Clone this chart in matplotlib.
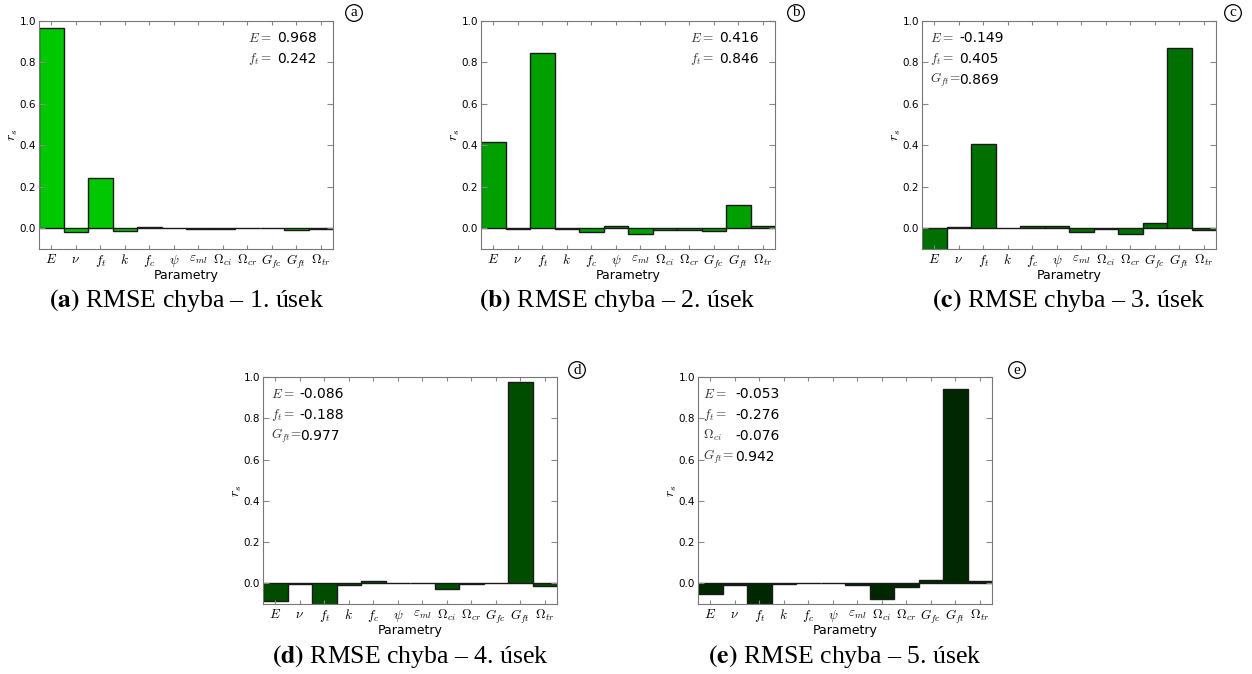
import numpy as np
import matplotlib; matplotlib.use("Agg")
import matplotlib.pyplot as plt

plt.rcParams.update({"mathtext.fontset": "cm", "font.family": "DejaVu Sans",
                     "xtick.direction": "in", "ytick.direction": "in"})

PARAMS = [r"$E$", r"$\nu$", r"$f_t$", r"$k$", r"$f_c$", r"$\psi$", r"$\varepsilon_{ml}$",
          r"$\Omega_{ci}$", r"$\Omega_{cr}$", r"$G_{fc}$", r"$G_{ft}$", r"$\Omega_{tr}$"]

rs_a = [0.968, -0.018, 0.242, -0.012, 0.005, 0.001, -0.002, -0.005, 0.0, 0.003, -0.008, -0.003]
rs_b = [0.416, -0.004, 0.846, -0.002, -0.018, 0.010, -0.028, -0.006, -0.010, -0.012, 0.114, 0.012]
rs_c = [-0.149, 0.004, 0.405, 0.003, 0.010, 0.010, -0.018, -0.002, -0.028, 0.026, 0.869, -0.010]
rs_d = [-0.086, -0.002, -0.188, -0.010, 0.012, 0.0, 0.003, -0.028, -0.003, 0.002, 0.977, -0.013]
rs_e = [-0.053, -0.010, -0.276, -0.002, 0.002, 0.004, -0.008, -0.076, -0.018, 0.015, 0.942, 0.013]

notes_a = [(r"$E =$", "0.968"), (r"$f_t =$", "0.242")]
notes_b = [(r"$E =$", "0.416"), (r"$f_t =$", "0.846")]
notes_c = [(r"$E =$", "-0.149"), (r"$f_t =$", "0.405"), (r"$G_{ft}\!=$", "0.869")]
notes_d = [(r"$E =$", "-0.086"), (r"$f_t =$", "-0.188"), (r"$G_{ft}\!=$", "0.977")]
notes_e = [(r"$E =$", "-0.053"), (r"$f_t =$", "-0.276"), (r"$\Omega_{ci}$", "-0.076"), (r"$G_{ft}\!=$", "0.942")]

W, H = 1252, 674
fig = plt.figure(figsize=(W/100, H/100), dpi=100)

# (vals, notes, color, axes box px [left, top, right, bottom], note x, letter pos, caption pos, letter, usek)
panels = [
    (rs_a, notes_a, "#00c800", (39, 21, 333, 249), (0.71, 0.81), (354, 13), (187, 301), "a", "1"),
    (rs_b, notes_b, "#00a000", (481, 21, 775, 249), (0.71, 0.81), (796, 13), (617, 301), "b", "2"),
    (rs_c, notes_c, "#007000", (922, 21, 1216, 249), (0.027, 0.126), (1233, 13), (1069, 301), "c", "3"),
    (rs_d, notes_d, "#004d00", (263, 377, 557, 604), (0.028, 0.125), (577, 370), (410, 657), "d", "4"),
    (rs_e, notes_e, "#002800", (698, 377, 992, 604), (0.017, 0.127), (1017, 370), (845, 657), "e", "5"),
]

for vals, notes, col, (l, t, r, b), (xl, xv), (lx, ly), (cx, cy), let, n in panels:
    ax = fig.add_axes([l/W, 1 - b/H, (r-l)/W, (b-t)/H])
    x = np.arange(len(PARAMS))
    ax.bar(x, vals, width=1.0, color=col, edgecolor="#1a1a1a", lw=1)
    ax.set_xlim(-0.5, len(PARAMS)-0.5); ax.set_ylim(-0.1, 1.0)
    ax.set_xticks(x); ax.set_xticklabels(PARAMS, fontsize=9.5)
    ax.set_yticks(np.arange(0, 1.01, 0.2))
    ax.tick_params(axis="y", labelsize=7.5, right=True, length=4, color="#888", pad=2)
    ax.tick_params(axis="x", top=True, length=3, color="#888", pad=3)
    for s in ax.spines.values(): s.set_color("#777")
    ax.set_xlabel("Parametry", fontsize=9, labelpad=-2)
    ax.set_ylabel(r"$r_s$", fontsize=10, labelpad=0)
    for i, (lab, v) in enumerate(notes):
        yy = 0.925 - i*0.092
        ax.text(xl, yy, lab, transform=ax.transAxes, fontsize=9.5, va="center", color="#333")
        ax.text(xv, yy, v, transform=ax.transAxes, fontsize=10, va="center")
    fig.text(lx/W, 1 - ly/H, let, fontsize=11, family="Liberation Serif", ha="center", va="center",
             bbox=dict(boxstyle="circle,pad=0.12", fc="white", ec="black", lw=0.9))
    fig.text(cx/W, 1 - cy/H, r"$\mathbf{(%s)}$ RMSE chyba – %s. úsek" % (let, n),
             fontsize=18.5, family="Liberation Serif", math_fontfamily="stix", ha="center", va="center")

fig.savefig("out.png", dpi=100)
